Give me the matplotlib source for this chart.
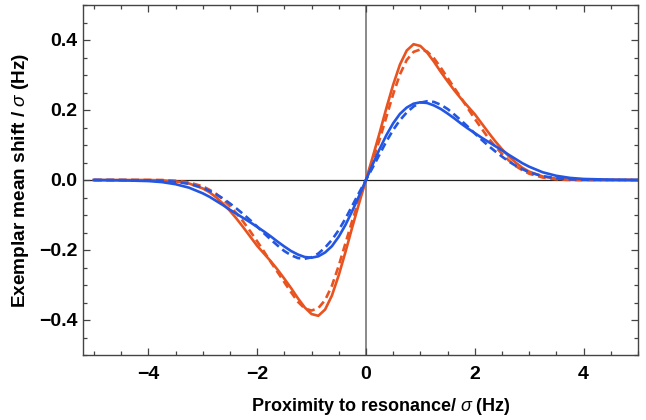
import matplotlib
matplotlib.use("Agg")
from matplotlib import pyplot as plt
from matplotlib.ticker import MultipleLocator

plt.rcParams['font.family'] = ['Liberation Sans', 'DejaVu Sans']
plt.rcParams['mathtext.fontset'] = 'custom'
plt.rcParams['mathtext.it'] = 'Liberation Sans:italic'
plt.rcParams['mathtext.rm'] = 'Liberation Sans'

# valores
x = [-5, -4.5, -4, -3.75, -3.5, -3.25, -3, -2.875, -2.75, -2.625, -2.5, -2.375,
     -2.25, -2.125, -2, -1.875, -1.75, -1.625, -1.5, -1.375, -1.25, -1.125, -1,
     -0.875, -0.75, -0.625, -0.5, -0.375, -0.25, -0.125, 0,
     0.125, 0.25, 0.375, 0.5, 0.625, 0.75, 0.875, 1, 1.125, 1.25, 1.375, 1.5,
     1.625, 1.75, 1.875, 2, 2.125, 2.25, 2.375, 2.5, 2.625, 2.75, 2.875, 3,
     3.25, 3.5, 3.75, 4, 4.5, 5]

laranja = [0, 0, 0, -0.001, -0.004, -0.010, -0.024, -0.035, -0.050, -0.068,
           -0.088, -0.111, -0.136, -0.162, -0.188, -0.210, -0.232, -0.256,
           -0.282, -0.309, -0.338, -0.364, -0.383, -0.388, -0.370, -0.330,
           -0.272, -0.205, -0.134, -0.066, 0,
           0.066, 0.134, 0.205, 0.272, 0.330, 0.370, 0.388, 0.383, 0.364,
           0.338, 0.309, 0.282, 0.256, 0.232, 0.210, 0.188, 0.162, 0.136,
           0.111, 0.088, 0.068, 0.050, 0.035, 0.024, 0.010, 0.004, 0.001,
           0, 0, 0]

laranja_tr = [0, 0, 0, 0, -0.002, -0.007, -0.018, -0.028, -0.040, -0.056,
              -0.075, -0.096, -0.120, -0.147, -0.175, -0.204, -0.234, -0.263,
              -0.292, -0.321, -0.348, -0.367, -0.373, -0.366, -0.343, -0.302,
              -0.245, -0.180, -0.115, -0.056, 0,
              0.056, 0.115, 0.180, 0.245, 0.302, 0.343, 0.366, 0.373, 0.367,
              0.348, 0.321, 0.292, 0.263, 0.234, 0.204, 0.175, 0.147, 0.120,
              0.096, 0.075, 0.056, 0.040, 0.028, 0.018, 0.007, 0.002, 0,
              0, 0, 0]

azul = [0, -0.001, -0.003, -0.006, -0.012, -0.022, -0.038, -0.048, -0.060,
        -0.072, -0.085, -0.097, -0.109, -0.121, -0.134, -0.147, -0.161,
        -0.176, -0.190, -0.203, -0.213, -0.220, -0.222, -0.218, -0.207,
        -0.189, -0.162, -0.128, -0.088, -0.045, 0,
        0.045, 0.088, 0.128, 0.162, 0.189, 0.207, 0.218, 0.222, 0.220,
        0.213, 0.203, 0.190, 0.176, 0.161, 0.147, 0.134, 0.121, 0.109,
        0.097, 0.085, 0.072, 0.060, 0.048, 0.038, 0.022, 0.012, 0.006,
        0.003, 0.001, 0]

azul_tr = [0, 0, -0.001, -0.002, -0.005, -0.011, -0.022, -0.031, -0.041,
           -0.053, -0.067, -0.082, -0.098, -0.115, -0.133, -0.152, -0.170,
           -0.187, -0.203, -0.215, -0.223, -0.225, -0.221, -0.210, -0.193,
           -0.171, -0.143, -0.110, -0.073, -0.036, 0,
           0.036, 0.073, 0.110, 0.143, 0.171, 0.193, 0.210, 0.221, 0.225,
           0.223, 0.215, 0.203, 0.187, 0.170, 0.152, 0.133, 0.115, 0.098,
           0.082, 0.067, 0.053, 0.041, 0.031, 0.022, 0.011, 0.005, 0.002,
           0.001, 0, 0]

cor_laranja = '#E8531F'
cor_azul = '#2356E2'

fig = plt.figure(figsize=(6.46, 4.2), dpi=100)
ax = fig.add_axes([83 / 646, 65 / 420, 555 / 646, 350 / 420])

ax.axhline(0, color='#222222', lw=0.9, zorder=1)
ax.axvline(0, color='#777777', lw=1.2, zorder=1)

tracos = (0, (3.0, 1.7))
estilo = dict(lw=1.9, solid_joinstyle='round', dash_joinstyle='round')
ax.plot(x, laranja, color=cor_laranja, zorder=3, **estilo)
ax.plot(x, laranja_tr, color=cor_laranja, ls=tracos, zorder=3, **estilo)
ax.plot(x, azul, color=cor_azul, zorder=4, **estilo)
ax.plot(x, azul_tr, color=cor_azul, ls=tracos, zorder=4, **estilo)

ax.set_xlim(-5.2, 5.0)
ax.set_ylim(-0.5, 0.5)

ax.xaxis.set_major_locator(MultipleLocator(2))
ax.xaxis.set_minor_locator(MultipleLocator(0.5))
ax.yaxis.set_major_locator(MultipleLocator(0.2))
ax.yaxis.set_minor_locator(MultipleLocator(0.05))
ax.yaxis.set_major_formatter(plt.FuncFormatter(lambda v, p: ('%.1f' % v).replace('-', '\u2212')))
ax.xaxis.set_major_formatter(plt.FuncFormatter(lambda v, p: ('%d' % round(v)).replace('-', '\u2212')))

for s in ax.spines.values():
    s.set_color('#444444')
    s.set_linewidth(1.0)

ax.tick_params(which='both', direction='in', top=True, right=True,
               color='#444444', width=0.9)
ax.tick_params(which='major', length=5)
ax.tick_params(which='minor', length=3)
ax.tick_params(axis='x', which='major', labelsize=14, pad=8)
ax.tick_params(axis='y', which='major', labelsize=14, pad=4)
for t in ax.get_xticklabels() + ax.get_yticklabels():
    t.set_fontweight('bold')

ax.set_xlabel(r'Proximity to resonance/ $\sigma$ (Hz)', fontsize=13, fontweight='bold')
ax.set_ylabel(r'Exemplar mean shift / $\sigma$ (Hz)', fontsize=13.7, fontweight='bold')
ax.xaxis.set_label_coords(0.537, -0.118)
ax.yaxis.set_label_coords(-0.093, 0.5)

fig.savefig('out.png', dpi=100)
